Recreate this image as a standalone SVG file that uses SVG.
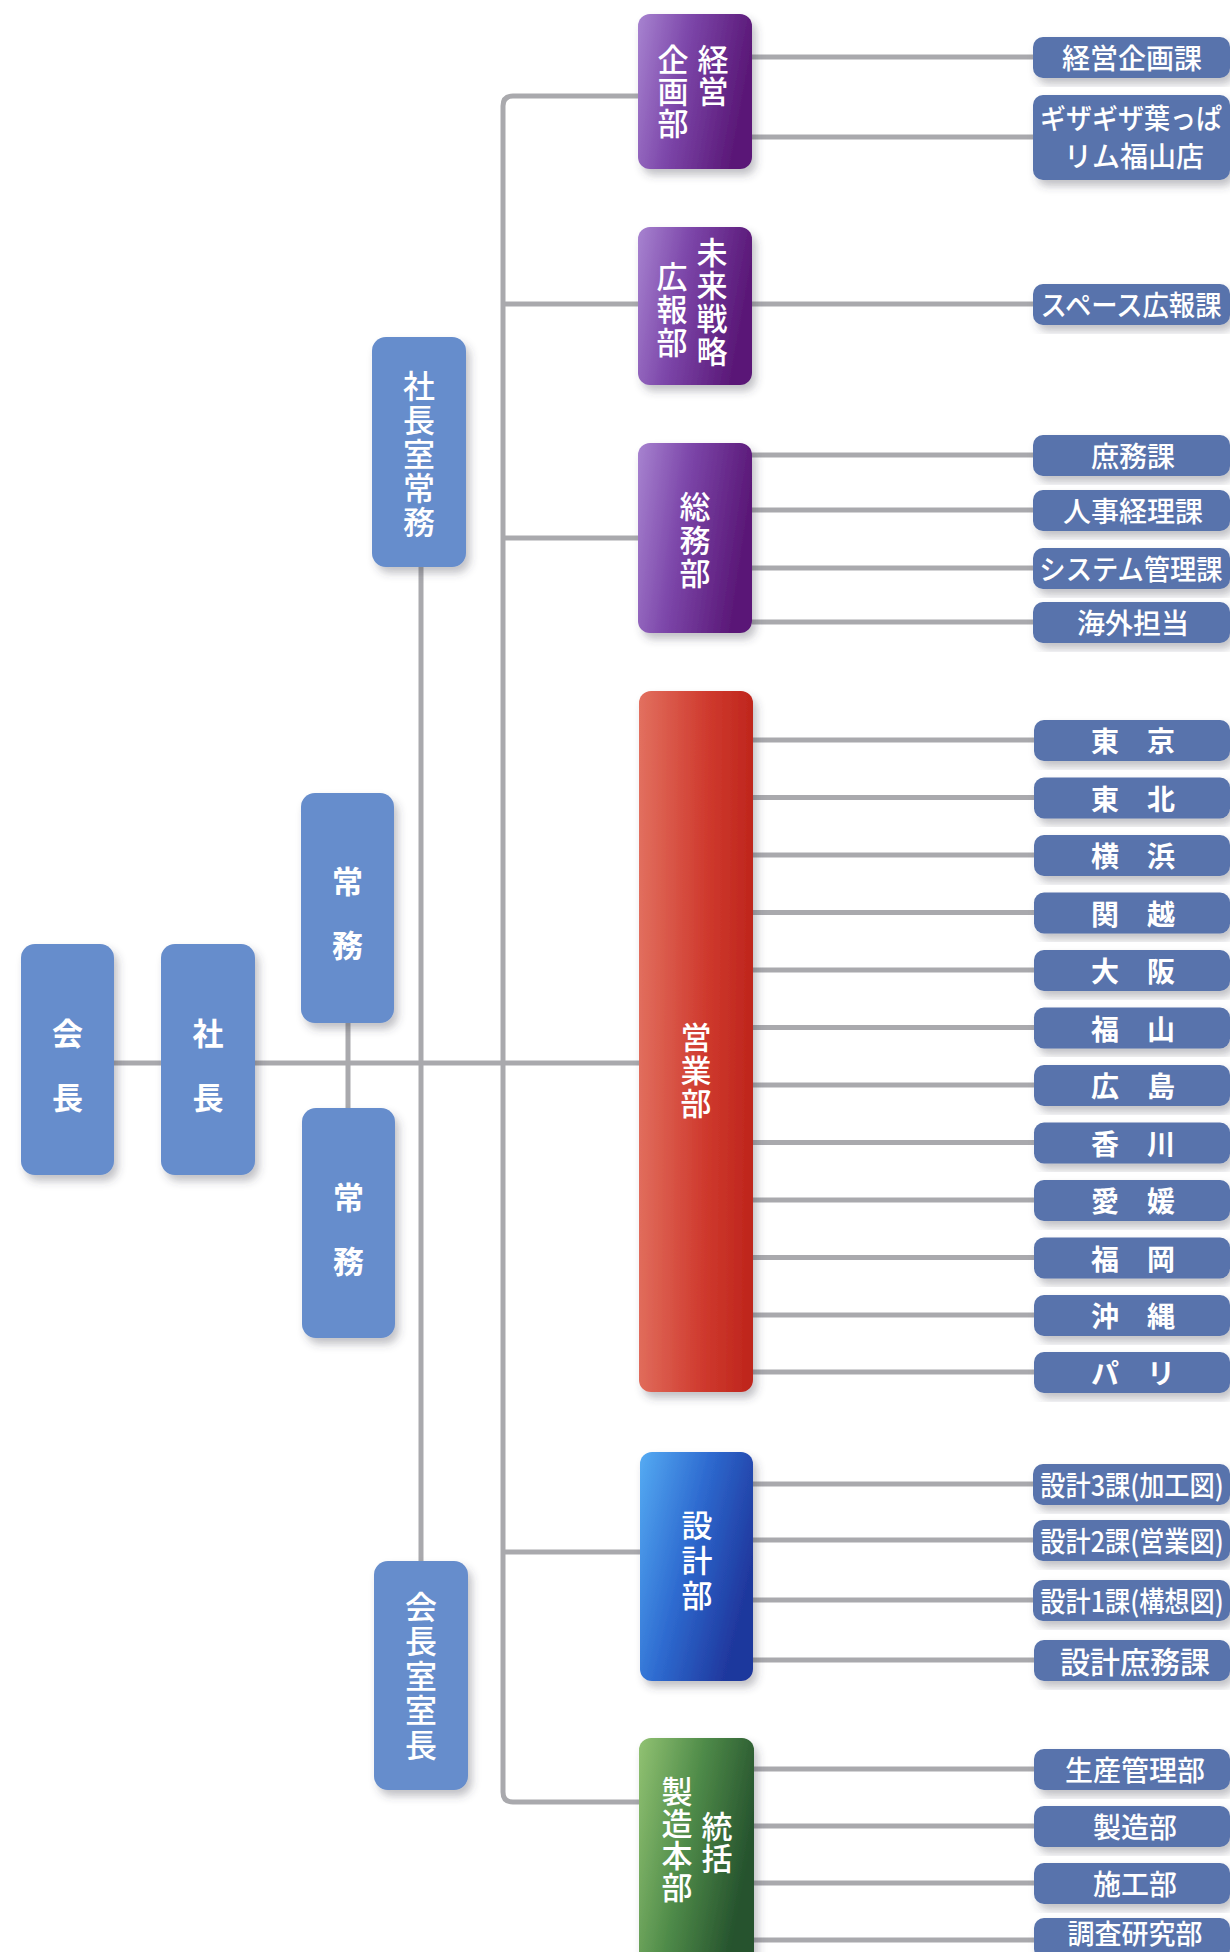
<svg xmlns="http://www.w3.org/2000/svg" width="1230" height="1952" viewBox="0 0 1230 1952">
<defs>
<filter id="sh" x="-20%" y="-10%" width="150%" height="130%">
<feDropShadow dx="4" dy="6" stdDeviation="4" flood-color="#3a3a50" flood-opacity="0.32"/>
</filter>
<linearGradient id="gPurple" x1="0" y1="0" x2="1" y2="0.25">
<stop offset="0" stop-color="#a783d0"/>
<stop offset="0.45" stop-color="#7c46a9"/>
<stop offset="1" stop-color="#5a1877"/>
</linearGradient>
<linearGradient id="gRed" x1="0" y1="0" x2="1" y2="0.05">
<stop offset="0" stop-color="#e2705f"/>
<stop offset="0.6" stop-color="#cf3a2e"/>
<stop offset="1" stop-color="#bf261d"/>
</linearGradient>
<linearGradient id="gBlue" x1="0" y1="0" x2="1" y2="0.5">
<stop offset="0" stop-color="#55abf3"/>
<stop offset="0.5" stop-color="#2e6bd0"/>
<stop offset="1" stop-color="#1f379d"/>
</linearGradient>
<linearGradient id="gGreen" x1="0" y1="0" x2="1" y2="0.4">
<stop offset="0" stop-color="#91c272"/>
<stop offset="0.5" stop-color="#4f8b49"/>
<stop offset="1" stop-color="#25522d"/>
</linearGradient>
<style>
.ln{stroke:#a9a9ad;stroke-width:5;fill:none}
.p{fill:#668dcc;filter:url(#sh)}
.lf{fill:#5873ac;filter:url(#sh)}
.d{filter:url(#sh)}
text{font-family:"Noto Sans CJK JP","Noto Sans CJK SC",sans-serif;fill:#ffffff;text-anchor:middle;dominant-baseline:central}
.v{writing-mode:vertical-rl;text-orientation:upright;dominant-baseline:auto}
.tp{font-size:31px;font-weight:700}
.tv{font-size:32px;font-weight:500}
.td{font-size:31px;font-weight:500}
.tl{font-size:28px;font-weight:500}
.tc{font-size:28px;font-weight:700}
</style>
</defs>
<rect width="1230" height="1952" fill="#ffffff"/>

<g id="connectors">
<path class="ln" d="M114 1063 H161"/>
<path class="ln" d="M255 1063 H639"/>
<path class="ln" d="M348 1023 V1108"/>
<path class="ln" d="M421 567 V1561"/>
<path class="ln" d="M638 96 H513 Q503 96 503 106 V1792 Q503 1802 513 1802 H639"/>
<path class="ln" d="M503 304 H638"/>
<path class="ln" d="M503 538 H638"/>
<path class="ln" d="M503 1552 H640"/>
<path class="ln" d="M752 57 H1034 M752 137 H1034 M752 304 H1034"/>
<path class="ln" d="M752 455 H1034 M752 510 H1034 M752 568 H1034 M752 622 H1034"/>
<path class="ln" d="M753 740 H1034 M753 797.5 H1034 M753 855 H1034 M753 912.5 H1034 M753 970 H1034 M753 1027.5 H1034 M753 1085 H1034 M753 1142.5 H1034 M753 1200 H1034 M753 1257.5 H1034 M753 1315 H1034 M753 1372 H1034"/>
<path class="ln" d="M753 1484 H1034 M753 1540 H1034 M753 1600 H1034 M753 1660 H1034"/>
<path class="ln" d="M754 1769 H1034 M754 1826 H1034 M754 1883 H1034 M754 1940 H1034"/>
</g>

<g id="kaicho">
<rect class="p" x="21" y="944" width="93" height="231" rx="14"/>
<text class="tp" x="67.5" y="1031">会</text><text class="tp" x="67.5" y="1095">長</text>
</g>
<g id="shacho">
<rect class="p" x="161" y="944" width="94" height="231" rx="14"/>
<text class="tp" x="208" y="1031">社</text><text class="tp" x="208" y="1095">長</text>
</g>
<g id="jomu1">
<rect class="p" x="301" y="793" width="93" height="230" rx="14"/>
<text class="tp" x="347.5" y="879">常</text><text class="tp" x="347.5" y="943">務</text>
</g>
<g id="jomu2">
<rect class="p" x="302" y="1108" width="93" height="230" rx="14"/>
<text class="tp" x="348.5" y="1195">常</text><text class="tp" x="348.5" y="1259">務</text>
</g>
<g id="shachoshitsu">
<rect class="p" x="372" y="337" width="94" height="230" rx="14"/>
<text class="tv v" x="419" y="455" style="letter-spacing:2px">社長室常務</text>
</g>
<g id="kaichoshitsu">
<rect class="p" x="374" y="1561" width="94" height="229" rx="14"/>
<text class="tv v" x="421" y="1677" style="letter-spacing:2.5px">会長室室長</text>
</g>

<g id="keiei">
<rect class="d" x="638" y="14" width="114" height="155" rx="12" fill="url(#gPurple)"/>
<text class="td v" x="713" y="75.5" style="letter-spacing:1px">経営</text>
<text class="td v" x="673" y="91.5" style="letter-spacing:1px">企画部</text>
</g>
<g id="mirai">
<rect class="d" x="638" y="227" width="114" height="158" rx="12" fill="url(#gPurple)"/>
<text class="td v" x="712" y="303" style="letter-spacing:2px">未来戦略</text>
<text class="td v" x="672" y="310" style="letter-spacing:2px">広報部</text>
</g>
<g id="somu">
<rect class="d" x="638" y="443" width="114" height="190" rx="12" fill="url(#gPurple)"/>
<text class="td v" x="695" y="541" style="letter-spacing:2.5px">総務部</text>
</g>
<g id="eigyo">
<rect class="d" x="639" y="691" width="114" height="701" rx="12" fill="url(#gRed)"/>
<text class="td v" x="696" y="1071" style="letter-spacing:2px">営業部</text>
</g>
<g id="sekkei">
<rect class="d" x="640" y="1452" width="113" height="229" rx="12" fill="url(#gBlue)"/>
<text class="td v" x="697" y="1562" style="letter-spacing:4px">設計部</text>
</g>
<g id="seizo">
<rect class="d" x="639" y="1738" width="115" height="240" rx="12" fill="url(#gGreen)"/>
<text class="td v" x="717" y="1842.5" style="letter-spacing:1px">統括</text>
<text class="td v" x="677" y="1839.5" style="letter-spacing:1px">製造本部</text>
</g>

<g id="leaf-keieikikaku"><rect class="lf" x="1033" y="37" width="197" height="41" rx="10"/><text class="tl" x="1132" y="57">経営企画課</text></g>
<g id="leaf-gizagiza"><rect class="lf" x="1033" y="95" width="197" height="85" rx="10"/><text class="tl" transform="translate(1131 117) scale(0.93 1)" x="0" y="0">ギザギザ葉っぱ</text><text class="tl" x="1134" y="155">リム福山店</text></g>
<g id="leaf-space"><rect class="lf" x="1033" y="284" width="197" height="41" rx="10"/><text class="tl" transform="translate(1131 304) scale(0.94 1)" x="0" y="0">スペース広報課</text></g>
<g id="leaf-shomu"><rect class="lf" x="1033" y="435" width="197" height="41" rx="10"/><text class="tl" x="1133" y="455">庶務課</text></g>
<g id="leaf-jinji"><rect class="lf" x="1033" y="490" width="197" height="41" rx="10"/><text class="tl" x="1133" y="510">人事経理課</text></g>
<g id="leaf-system"><rect class="lf" x="1033" y="548" width="197" height="41" rx="10"/><text class="tl" transform="translate(1131 568) scale(0.94 1)" x="0" y="0">システム管理課</text></g>
<g id="leaf-kaigai"><rect class="lf" x="1033" y="602" width="197" height="41" rx="10"/><text class="tl" x="1133" y="622">海外担当</text></g>

<g id="leaf-tokyo"><rect class="lf" x="1034" y="720" width="196" height="41" rx="10"/><text class="tc" x="1133" y="740">東　京</text></g>
<g id="leaf-tohoku"><rect class="lf" x="1034" y="777.5" width="196" height="41" rx="10"/><text class="tc" x="1133" y="797.5">東　北</text></g>
<g id="leaf-yokohama"><rect class="lf" x="1034" y="835" width="196" height="41" rx="10"/><text class="tc" x="1133" y="855">横　浜</text></g>
<g id="leaf-kanetsu"><rect class="lf" x="1034" y="892.5" width="196" height="41" rx="10"/><text class="tc" x="1133" y="912.5">関　越</text></g>
<g id="leaf-osaka"><rect class="lf" x="1034" y="950" width="196" height="41" rx="10"/><text class="tc" x="1133" y="970">大　阪</text></g>
<g id="leaf-fukuyama"><rect class="lf" x="1034" y="1007.5" width="196" height="41" rx="10"/><text class="tc" x="1133" y="1027.5">福　山</text></g>
<g id="leaf-hiroshima"><rect class="lf" x="1034" y="1065" width="196" height="41" rx="10"/><text class="tc" x="1133" y="1085">広　島</text></g>
<g id="leaf-kagawa"><rect class="lf" x="1034" y="1122.5" width="196" height="41" rx="10"/><text class="tc" x="1133" y="1142.5">香　川</text></g>
<g id="leaf-ehime"><rect class="lf" x="1034" y="1180" width="196" height="41" rx="10"/><text class="tc" x="1133" y="1200">愛　媛</text></g>
<g id="leaf-fukuoka"><rect class="lf" x="1034" y="1237.5" width="196" height="41" rx="10"/><text class="tc" x="1133" y="1257.5">福　岡</text></g>
<g id="leaf-okinawa"><rect class="lf" x="1034" y="1295" width="196" height="41" rx="10"/><text class="tc" x="1133" y="1315">沖　縄</text></g>
<g id="leaf-paris"><rect class="lf" x="1034" y="1352" width="196" height="41" rx="10"/><text class="tc" x="1133" y="1372">パ　リ</text></g>

<g id="leaf-sekkei3"><rect class="lf" x="1033" y="1464" width="197" height="41" rx="10"/><text class="tl" transform="translate(1132 1484) scale(0.9 1)" x="0" y="0">設計3課(加工図)</text></g>
<g id="leaf-sekkei2"><rect class="lf" x="1033" y="1520" width="197" height="41" rx="10"/><text class="tl" transform="translate(1132 1540) scale(0.9 1)" x="0" y="0">設計2課(営業図)</text></g>
<g id="leaf-sekkei1"><rect class="lf" x="1033" y="1580" width="197" height="41" rx="10"/><text class="tl" transform="translate(1132 1600) scale(0.9 1)" x="0" y="0">設計1課(構想図)</text></g>
<g id="leaf-sekkeishomu"><rect class="lf" x="1034" y="1640" width="196" height="41" rx="10"/><text class="tl" x="1135" y="1660" style="font-size:30px">設計庶務課</text></g>

<g id="leaf-seisan"><rect class="lf" x="1034" y="1749" width="196" height="41" rx="10"/><text class="tl" x="1135" y="1769">生産管理部</text></g>
<g id="leaf-seizobu"><rect class="lf" x="1034" y="1806" width="196" height="41" rx="10"/><text class="tl" x="1135" y="1826">製造部</text></g>
<g id="leaf-seko"><rect class="lf" x="1034" y="1863" width="196" height="41" rx="10"/><text class="tl" x="1135" y="1883">施工部</text></g>
<g id="leaf-chosa"><rect class="lf" x="1034" y="1918" width="196" height="41" rx="10"/><text class="tl" x="1135" y="1932" style="font-size:27px">調査研究部</text></g>
</svg>
